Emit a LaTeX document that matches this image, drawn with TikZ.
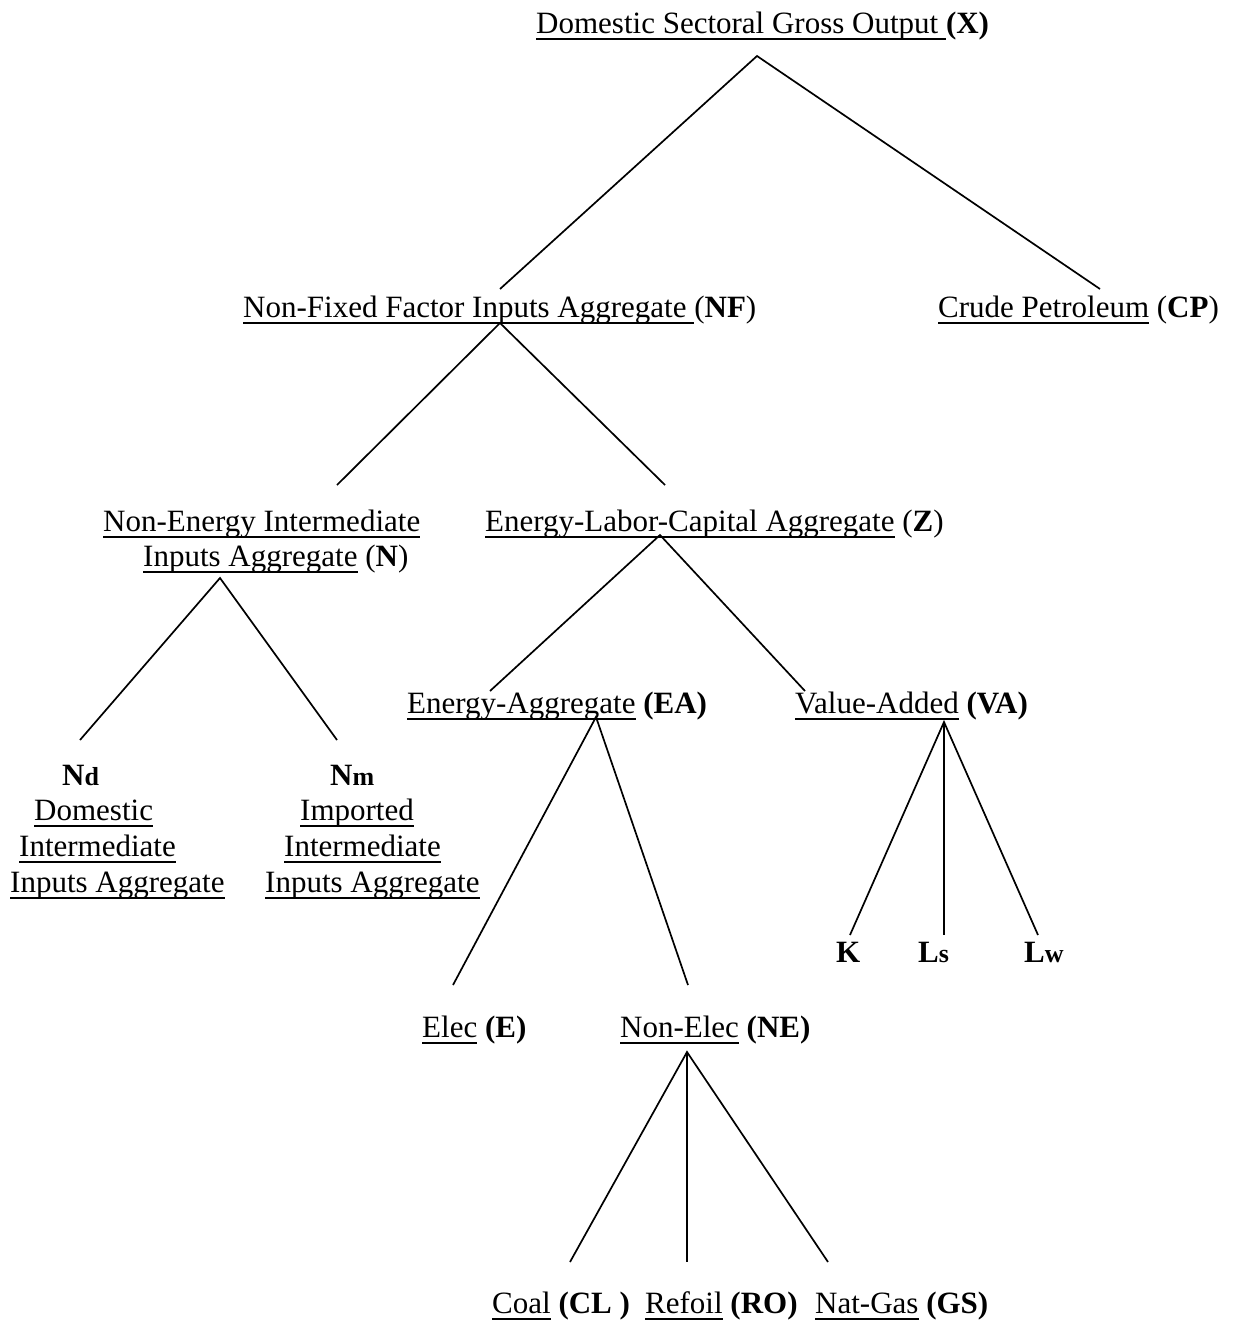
\documentclass[tikz,border=0pt]{standalone}
\usepackage{fontspec}
\setmainfont{Liberation Serif}
\newcommand\ulin[1]{\setbox0\hbox{#1}\rlap{\rule[-6.5pt]{\wd0}{2pt}}\box0\relax}
\newcommand\smallbf[1]{{\fontsize{26}{30}\selectfont\bfseries #1}}
\begin{document}
\begin{tikzpicture}[x=1pt,y=-1pt,
  lbl/.style={inner sep=0pt, anchor=base west, font=\fontsize{31}{36}\selectfont},
  edge/.style={line width=1.7pt}]
\useasboundingbox (0,0) rectangle (1232,1328);
% labels
\node[lbl] (X) at (536,33) {\ulin{Domestic Sectoral Gross Output }\textbf{(X)}};
\node[lbl] (NF) at (243,317) {\ulin{Non-Fixed Factor Inputs Aggregate }(\textbf{NF})};
\node[lbl] (CP) at (938,317) {\ulin{Crude Petroleum} (\textbf{CP})};
\node[lbl] (N1) at (103,531) {\ulin{Non-Energy Intermediate}};
\node[lbl] (N2) at (143,566) {\ulin{Inputs Aggregate} (\textbf{N})};
\node[lbl] (Z) at (485,531) {\ulin{Energy-Labor-Capital Aggregate} (\textbf{Z})};
\node[lbl] (EA) at (407,713) {\ulin{Energy-Aggregate} \textbf{(EA)}};
\node[lbl] (VA) at (795,713) {\ulin{Value-Added} \textbf{(VA)}};
\node[lbl] (Nd) at (62,785) {\textbf{N}\smallbf{d}};
\node[lbl] (Nd1) at (34,820) {\ulin{Domestic}};
\node[lbl] (Nd2) at (19,856) {\ulin{Intermediate}};
\node[lbl] (Nd3) at (10,892) {\ulin{Inputs Aggregate}};
\node[lbl] (Nm) at (330,785) {\textbf{N}\smallbf{m}};
\node[lbl] (Nm1) at (300,820) {\ulin{Imported}};
\node[lbl] (Nm2) at (284,856) {\ulin{Intermediate}};
\node[lbl] (Nm3) at (265,892) {\ulin{Inputs Aggregate}};
\node[lbl] (K) at (836,962) {\textbf{K}};
\node[lbl] (Ls) at (918,962) {\textbf{L}\smallbf{s}};
\node[lbl] (Lw) at (1024,962) {\textbf{L}\smallbf{w}};
\node[lbl] (E) at (422,1037) {\ulin{Elec} \textbf{(E)}};
\node[lbl] (NE) at (620,1037) {\ulin{Non-Elec} \textbf{(NE)}};
\node[lbl] (CL) at (492,1313) {\ulin{Coal} \textbf{(CL )}};
\node[lbl] (RO) at (645,1313) {\ulin{Refoil} \textbf{(RO)}};
\node[lbl] (GS) at (815,1313) {\ulin{Nat-Gas} \textbf{(GS)}};
% connector ends
\coordinate (x0) at (757,56);
\coordinate (nfT) at (500,289);
\coordinate (cpT) at (1100,289);
\coordinate (nf0) at (500,323);
\coordinate (nT) at (337,485);
\coordinate (zT) at (665,485);
\coordinate (n0) at (220,578);
\coordinate (ndT) at (80,740);
\coordinate (nmT) at (337,740);
\coordinate (z0) at (660,535);
\coordinate (eaT) at (490,691);
\coordinate (vaT) at (805,691);
\coordinate (ea0) at (596,717);
\coordinate (eT) at (453,985);
\coordinate (neT) at (688,985);
\coordinate (va0) at (944,722);
\coordinate (kT) at (850,935);
\coordinate (lsT) at (944,935);
\coordinate (lwT) at (1038,935);
\coordinate (ne0) at (687,1052);
\coordinate (clT) at (570,1262);
\coordinate (roT) at (687,1262);
\coordinate (gsT) at (828,1262);
% connectors
\draw[edge] (nfT) -- (x0) -- (cpT);
\draw[edge] (nT) -- (nf0) -- (zT);
\draw[edge] (ndT) -- (n0) -- (nmT);
\draw[edge] (eaT) -- (z0) -- (vaT);
\draw[edge] (eT) -- (ea0) -- (neT);
\draw[edge] (kT) -- (va0) -- (lwT);
\draw[edge] (va0) -- (lsT);
\draw[edge] (clT) -- (ne0) -- (gsT);
\draw[edge] (ne0) -- (roT);
\end{tikzpicture}
\end{document}
